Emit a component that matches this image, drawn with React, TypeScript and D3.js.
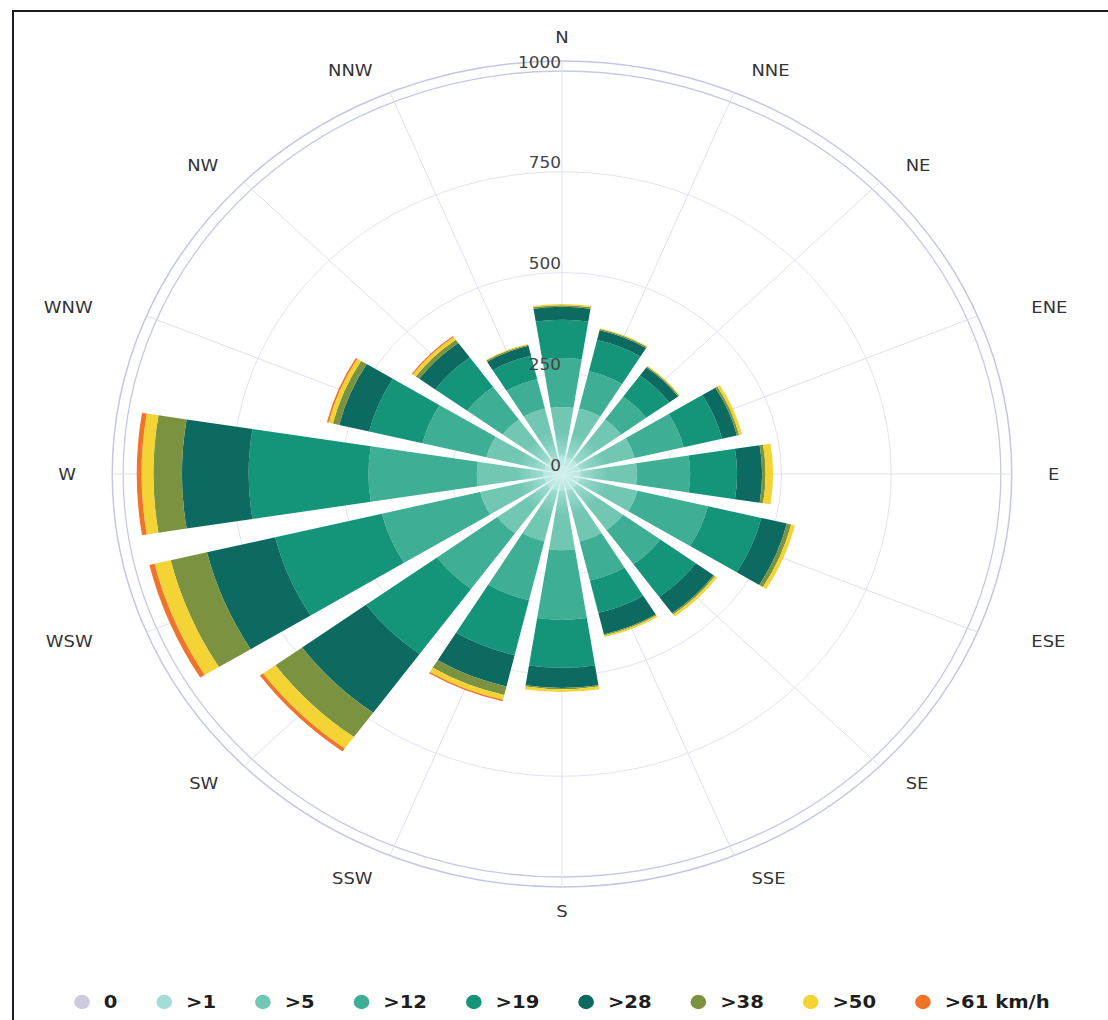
import React, { useEffect, useRef } from 'react';
import * as d3 from 'd3';

const directions = ['N', 'NNE', 'NE', 'ENE', 'E', 'ESE', 'SE', 'SSE', 'S', 'SSW', 'SW', 'WSW', 'W', 'WNW', 'NW', 'NNW'];
const speedClasses = ['0', '>1', '>5', '>12', '>19', '>28', '>38', '>50', '>61 km/h'];

// values per speed class, one entry per direction (N clockwise)
const calm = [5, 5, 5, 5, 5, 5, 5, 5, 5, 5, 5, 5, 5, 5, 5, 5];
const over1 = [40, 37, 37, 37, 37, 37, 37, 37, 37, 37, 37, 37, 37, 37, 37, 37];
const over5 = [121, 125, 125, 128, 129, 135, 130, 130, 147, 130, 140, 150, 152, 135, 125, 125];
const over12 = [122, 95, 70, 115, 121, 165, 105, 100, 173, 150, 170, 230, 247, 150, 100, 75];
const over19 = [95, 80, 65, 90, 107, 125, 100, 82, 119, 140, 200, 250, 273, 125, 90, 60];
const over28 = [32, 25, 25, 35, 57, 60, 50, 55, 50, 80, 180, 160, 152, 70, 45, 25];
const over38 = [4, 3, 3, 5, 8, 10, 4, 3, 3, 22, 75, 85, 65, 15, 10, 3];
const over50 = [3, 2, 2, 7, 17, 9, 6, 4, 7, 12, 35, 38, 27, 10, 8, 2];
const over61 = [0, 0, 0, 0, 0, 0, 0, 0, 0, 4, 9, 12, 11, 4, 3, 0];

const seriesValues = [calm, over1, over5, over12, over19, over28, over38, over50, over61];
const seriesColors = ['#cdcadd', '#a2ddd8', '#72c7b3', '#3eae95', '#149579', '#0c6a61', '#7b9341', '#f4d334', '#f07329'];
const radialTicks = [0, 250, 500, 750, 1000];

export default function App() {
  const ref = useRef<SVGSVGElement>(null);

  useEffect(() => {
    const svg = d3.select(ref.current);
    svg.selectAll('*').remove();

    const cx = 562;
    const cy = 474;
    const R = 403;
    const paneR = 413;
    const sx = 1.089;

    const rows = directions.map((dir, i) => {
      const row: any = { dir };
      speedClasses.forEach((k, j) => (row[k] = seriesValues[j][i]));
      return row;
    });

    const step = (2 * Math.PI) / directions.length;
    const angle = d3
      .scaleBand<string>()
      .domain(directions)
      .range([-step / 2, 2 * Math.PI - step / 2])
      .paddingInner(0.2)
      .paddingOuter(0.1);
    const r = d3.scaleLinear().domain([0, 1000]).range([0, R]);

    const stack = d3.stack<any>().keys(speedClasses);
    const stacked = stack(rows);

    svg.append('rect').attr('width', 1108).attr('height', 1020).attr('fill', '#ffffff');

    const defs = svg.append('defs');
    const grad = defs.append('radialGradient').attr('id', 'glow');
    grad.append('stop').attr('offset', '0%').attr('stop-color', '#d8f3ef').attr('stop-opacity', 0.95);
    grad.append('stop').attr('offset', '55%').attr('stop-color', '#bfeae4').attr('stop-opacity', 0.45);
    grad.append('stop').attr('offset', '100%').attr('stop-color', '#bfeae4').attr('stop-opacity', 0);

    const g = svg.append('g').attr('transform', `translate(${cx},${cy}) scale(${sx},1)`);

    // concentric grid
    g.selectAll('circle.grid')
      .data(radialTicks.filter((t) => t > 0))
      .join('circle')
      .attr('class', 'grid')
      .attr('r', (d) => r(d))
      .attr('fill', 'none')
      .attr('stroke', (d) => (d === 1000 ? '#c6c9e6' : '#e3e3f0'))
      .attr('stroke-width', (d) => (d === 1000 ? 1.3 : 1))
      .attr('vector-effect', 'non-scaling-stroke');

    g.append('circle')
      .attr('r', paneR)
      .attr('fill', 'none')
      .attr('stroke', '#c3c6e6')
      .attr('stroke-width', 1.5)
      .attr('vector-effect', 'non-scaling-stroke');

    // radial grid
    g.selectAll('line.spoke')
      .data(directions)
      .join('line')
      .attr('class', 'spoke')
      .attr('x1', 0)
      .attr('y1', 0)
      .attr('x2', (d) => paneR * Math.sin((angle(d) as number) + angle.bandwidth() / 2))
      .attr('y2', (d) => -paneR * Math.cos((angle(d) as number) + angle.bandwidth() / 2))
      .attr('stroke', '#dfdfef')
      .attr('stroke-width', 1)
      .attr('vector-effect', 'non-scaling-stroke');

    const arc = d3
      .arc<any>()
      .innerRadius((d) => r(d[0]))
      .outerRadius((d) => r(d[1]))
      .startAngle((d) => angle(d.data.dir) as number)
      .endAngle((d) => (angle(d.data.dir) as number) + angle.bandwidth());

    g.selectAll('g.series')
      .data(stacked)
      .join('g')
      .attr('class', 'series')
      .attr('fill', (_, i) => seriesColors[i])
      .selectAll('path')
      .data((s) => s)
      .join('path')
      .attr('d', arc as any);

    g.append('circle').attr('r', 42).attr('fill', 'url(#glow)');

    const font = "'DejaVu Sans', 'Noto Sans', sans-serif";

    // radial axis labels
    radialTicks.forEach((t) => {
      svg
        .append('g')
        .attr('transform', `translate(${cx - 1},${cy - r(t) - 9}) scale(${sx},1)`)
        .append('text')
        .attr('text-anchor', 'end')
        .attr('dy', '0.36em')
        .attr('font-family', font)
        .attr('font-size', 15.5)
        .attr('fill', '#444')
        .text(String(t));
    });

    // direction labels
    directions.forEach((d) => {
      const th = (angle(d) as number) + angle.bandwidth() / 2;
      const s = Math.sin(th);
      const as = Math.abs(s);
      const rx = as > 0.8 && as < 0.99 ? 508 : as > 0.3 && as < 0.5 ? 495 : 486;
      const px = cx + rx * s;
      const py = cy - 437 * Math.cos(th);
      const anchor = as < 0.2 ? 'middle' : s > 0 ? 'start' : 'end';
      svg
        .append('g')
        .attr('transform', `translate(${px},${py}) scale(${sx},1)`)
        .append('text')
        .attr('text-anchor', anchor)
        .attr('dy', '0.36em')
        .attr('font-family', font)
        .attr('font-size', 16.5)
        .attr('fill', '#333')
        .text(d);
    });

    // legend
    const lg = svg.append('g').attr('transform', `translate(82,1002) scale(${sx},1)`);
    let x = 0;
    speedClasses.forEach((k, i) => {
      lg.append('circle').attr('cx', x).attr('cy', 0).attr('r', 7.2).attr('fill', seriesColors[i]);
      const t = lg
        .append('text')
        .attr('x', x + 20)
        .attr('dy', '0.36em')
        .attr('font-family', font)
        .attr('font-weight', 'bold')
        .attr('font-size', 18)
        .attr('fill', '#1e1e1e')
        .text(k);
      const w = (t.node() as SVGTextElement).getComputedTextLength();
      x += 20 + w + 43;
    });

    // frame
    svg
      .append('path')
      .attr('d', 'M13,1020 V11 H1108')
      .attr('fill', 'none')
      .attr('stroke', '#1b1b26')
      .attr('stroke-width', 2);
  }, []);

  return (
    <svg
      ref={ref}
      width={1108}
      height={1020}
      style={{ position: 'absolute', left: 0, top: 0, display: 'block' }}
    />
  );
}
